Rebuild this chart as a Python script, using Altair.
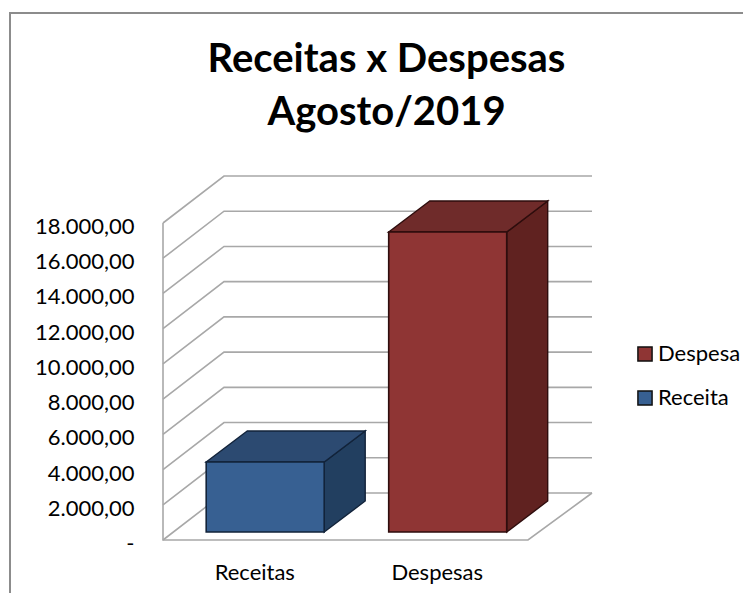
import altair as alt
import pandas as pd

categories = ["Receitas", "Despesas"]
series = ["Receita", "Despesa"]
values = [3975, 17035]
ticks = [0, 2000, 4000, 6000, 8000, 10000, 12000, 14000, 16000, 18000]
front = ["#376092", "#8f3534"]
top = ["#2c4a71", "#6f2b2a"]
side = ["#223f60", "#602220"]
edge = ["#12233a", "#2e0d0d"]

# scale set-up: one category = 182.5 px, 18000 = 317 px
PX_CAT = 182.5
PX_VAL = 317 / 18000
W, H = 733, 580
X0, Y0 = 153, 527  # floor corner inside the plot frame
x_dom = [-X0 / PX_CAT, (W - X0) / PX_CAT]
y_dom = [-(H - Y0) / PX_VAL, Y0 / PX_VAL]
x_scale = alt.Scale(domain=x_dom, nice=False, zero=False)
y_scale = alt.Scale(domain=y_dom, nice=False, zero=False)

x_axis = alt.Axis(values=[0.5, 1.5], title=None, grid=False, ticks=False, domain=False,
                  labelExpr="['Receitas','Despesas'][floor(datum.value)]",
                  labelFont="Lato", labelFontSize=22, labelColor="#000000",
                  labelPadding=0, labelBaseline="middle", offset=-21,
                  labelFlush=False, labelOverlap=False)
y_axis = alt.Axis(values=ticks, title=None, grid=False, ticks=False, domain=False,
                  labelExpr="datum.value == 0 ? '-' : replace(replace(replace(format(datum.value, ',.2f'), ',', '#'), '.', ','), '#', '.')",
                  labelFont="Lato", labelFontSize=22, labelColor="#000000",
                  labelPadding=0, offset=-124, labelOffset=3.5,
                  labelOverlap=False, labelFlush=False)

# depth of the box: wall and bars
WALL_DX, WALL_DY = 61 / PX_CAT, 47 / PX_VAL
WALL_W = 2 + 64 / PX_CAT
BAR_DX, BAR_DY = 41 / PX_CAT, 31 / PX_VAL
BAR_W = 118 / PX_CAT
BAR_LIFT = 8 / PX_VAL
BAR_OFF = 0.56

X = alt.X("x:Q", scale=x_scale, axis=x_axis)
Y = alt.Y("y:Q", scale=y_scale, axis=y_axis)

frame = pd.DataFrame({
    "x": [x_dom[0], x_dom[0], x_dom[1]],
    "y": [y_dom[0], y_dom[1], y_dom[1]],
    "o": [0, 1, 2],
})
frame_layer = alt.Chart(frame).mark_line(color="#8c8c8c", strokeWidth=2).encode(x=X, y=Y, order="o:Q")

grid_rows = []
for t in ticks:
    grid_rows += [
        {"t": t, "o": 0, "x": 0, "y": t},
        {"t": t, "o": 1, "x": WALL_DX, "y": t + WALL_DY},
        {"t": t, "o": 2, "x": WALL_W, "y": t + WALL_DY},
    ]
grid_rows += [
    {"t": -1, "o": 0, "x": 0, "y": 18000},
    {"t": -1, "o": 1, "x": 0, "y": 0},
    {"t": -1, "o": 2, "x": 2, "y": 0},
    {"t": -1, "o": 3, "x": WALL_W, "y": WALL_DY},
]
grid = (
    alt.Chart(pd.DataFrame(grid_rows))
    .mark_line(color="#a8a8a8", strokeWidth=1.6)
    .encode(x=X, y=Y, detail="t:N", order="o:Q")
)

layers = [grid, frame_layer]
for i, (cat, ser, val) in enumerate(zip(categories, series, values)):
    l = i + BAR_OFF - BAR_W / 2
    r = l + BAR_W
    b = BAR_LIFT
    t = BAR_LIFT + val
    side_df = pd.DataFrame({"x": [r, r + BAR_DX], "y": [b, b + BAR_DY], "y2": [t, t + BAR_DY]})
    top_df = pd.DataFrame({"y": [t, t + BAR_DY], "x": [l, l + BAR_DX], "x2": [r, r + BAR_DX]})
    front_df = pd.DataFrame({"x": [l], "x2": [r], "y": [b], "y2": [t], "serie": [ser]})
    layers.append(
        alt.Chart(side_df).mark_area(color=side[i], stroke=edge[i], strokeWidth=1.4).encode(
            x=X, y=Y, y2="y2:Q")
    )
    layers.append(
        alt.Chart(top_df).mark_area(orient="horizontal", color=top[i], stroke=edge[i], strokeWidth=1.4).encode(
            y=Y, x=X, x2="x2:Q")
    )
    layers.append(
        alt.Chart(front_df).mark_rect(stroke=edge[i], strokeWidth=1.6).encode(
            x=X, x2="x2:Q",
            y=Y, y2="y2:Q",
            fill=alt.Fill("serie:N",
                          scale=alt.Scale(domain=["Despesa", "Receita"], range=[front[1], front[0]]),
                          legend=alt.Legend(title=None, orient="none", legendX=624, legendY=330,
                                            symbolType="square", symbolSize=200,
                                            symbolStrokeColor="#111111", symbolStrokeWidth=1.5,
                                            symbolOpacity=1,
                                            labelFont="Lato", labelFontSize=22, labelColor="#000000",
                                            labelOffset=2, rowPadding=22)),
        )
    )

chart = (
    alt.layer(*layers)
    .properties(
        width=W, height=H,
        padding={"left": 2, "top": 5, "right": 0, "bottom": 0},
        autosize=alt.AutoSizeParams(type="none"),
        title=alt.TitleParams(
            text=["Receitas x Despesas", "Agosto/2019"],
            font="Lato", fontSize=40, fontWeight="bold", color="#000000",
            anchor="middle", lineHeight=53, dx=10, dy=123.5, offset=0,
        ),
    )
    .configure_view(stroke=None)
    .configure(background="#ffffff")
)

chart.save("out.html", embed_options={"renderer": "svg", "actions": False})
